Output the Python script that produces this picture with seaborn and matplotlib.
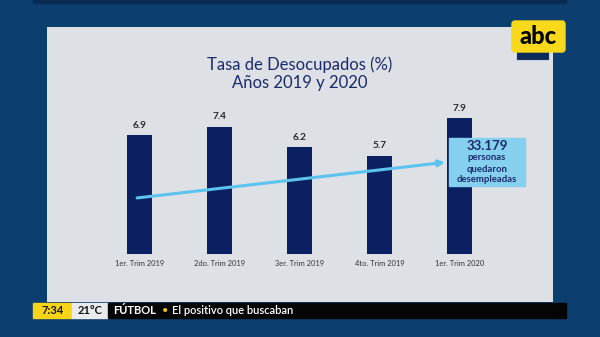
import matplotlib
matplotlib.use("Agg")
import matplotlib.pyplot as plt
from matplotlib.patches import Rectangle, FancyBboxPatch
import seaborn as sns

# Unemployment rate by quarter (%)
categories = ["1er. Trim 2019", "2do. Trim 2019", "3er. Trim 2019", "4to. Trim 2019", "1er. Trim 2020"]
values = [6.9, 7.4, 6.2, 5.7, 7.9]
title_lines = ["Tasa de Desocupados (%)", "Años 2019 y 2020"]
callout_number = "33.179"
callout_text = ["personas", "quedaron", "desempleadas"]
ticker_time = "7:34"
ticker_temp = "21°C"
ticker_section = "FÚTBOL"
ticker_headline = "El positivo que buscaban"

sns.set_theme(style="white")
plt.rcParams["font.family"] = ["Lato", "DejaVu Sans"]

BG = "#0c3e70"
PANEL = "#dde0e5"
BAR = "#0b2060"
NAVY_TEXT = "#1b2a6b"
ARROW = "#5cc3ee"
CALLOUT = "#86d0ef"

W, H = 600, 337
fig = plt.figure(figsize=(W / 100, H / 100), dpi=100, facecolor=BG)

# chart panel (pixel box 47..553 x 27..302)
ax = fig.add_axes([47 / W, 1 - 302 / H, 506 / W, 275 / H])
ax.set_facecolor(PANEL)
sns.barplot(x=categories, y=values, color=BAR, saturation=1, width=0.3125,
            linewidth=0, edgecolor="none", ax=ax)
ax.set_xlim(-1.156, 5.169)
ax.set_ylim(-2.79, 13.2)
for s in ax.spines.values():
    s.set_visible(False)
ax.set_xticks([])
ax.set_yticks([])
ax.set_xlabel("")
ax.set_ylabel("")

ax.bar_label(ax.containers[0], labels=[f"{v:.1f}" for v in values],
             padding=4, fontsize=7.2, fontweight="bold", color="#2a2a2a")
for i, cat in enumerate(categories):
    ax.text(i, -0.58, cat, ha="center", va="center", fontsize=5.4,
            color="#333333")

# trend arrow
ax.annotate("", xy=(3.82, 5.33), xytext=(-0.03, 3.26),
            arrowprops=dict(arrowstyle="-|>", color=ARROW, lw=2.2,
                            mutation_scale=9, shrinkA=0, shrinkB=0))

# overlay in pixel coordinates
ov = fig.add_axes([0, 0, 1, 1], zorder=5)
ov.set_xlim(0, W)
ov.set_ylim(H, 0)
ov.set_axis_off()
ov.patch.set_alpha(0)

# top strip
ov.add_patch(Rectangle((33, 0), 533, 2.5, color="#0a2b52"))

# title
ov.text(300, 65, title_lines[0], ha="center", va="center", fontsize=12,
        color=NAVY_TEXT)
ov.text(300, 83, title_lines[1], ha="center", va="center", fontsize=12,
        color=NAVY_TEXT)

# callout box
ov.add_patch(Rectangle((449, 138), 76, 48, color=CALLOUT))
ov.text(487, 145.5, callout_number, ha="center", va="center", fontsize=9.5,
        fontweight="bold", color=NAVY_TEXT)
for k, line in enumerate(callout_text):
    ov.text(487, 158 + k * 11, line, ha="center", va="center", fontsize=6.8,
            fontweight="bold", color=NAVY_TEXT)

# logo
ov.add_patch(Rectangle((516, 50), 33, 10, color="#0b2a5a", ec="#c9d2de", lw=0.8))
ov.add_patch(FancyBboxPatch((512, 21), 53, 31, boxstyle="round,pad=0,rounding_size=3",
                            color="#f7d81a"))
ov.text(538.5, 37, "abc", ha="center", va="center", fontsize=17, fontweight="black",
        color="black")

# bottom ticker
ov.add_patch(Rectangle((33, 303), 39, 15, color="#f7d417"))
ov.add_patch(Rectangle((72, 303), 36, 15, color="#e9eaec"))
ov.add_patch(Rectangle((108, 303), 458, 15, color="#050505"))
ov.text(52.5, 311, ticker_time, ha="center", va="center", fontsize=8, fontweight="bold", color="#1a1a1a")
ov.text(90, 311, ticker_temp, ha="center", va="center", fontsize=8, fontweight="bold", color="#111111")
ov.text(113, 311, ticker_section, ha="left", va="center", fontsize=8, fontweight="bold", color="white")
ov.text(165, 311, "•", ha="center", va="center", fontsize=8, color="#f2c418")
ov.text(172, 311, ticker_headline, ha="left", va="center", fontsize=8,
        fontweight="semibold", color="white")

fig.savefig("out.png", dpi=100, facecolor=BG)
